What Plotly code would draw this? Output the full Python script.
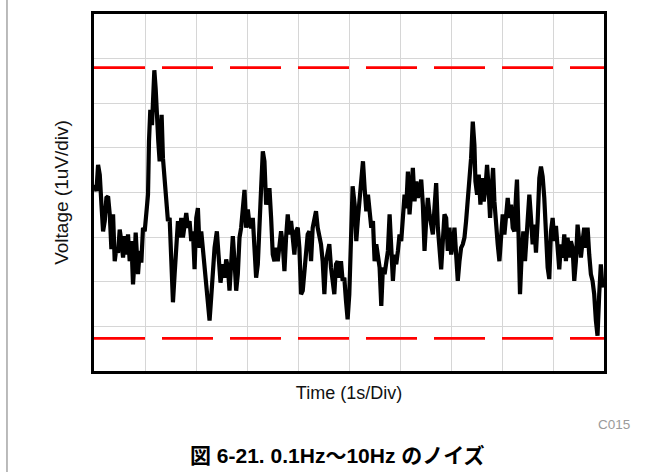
import plotly.graph_objects as go

# Time (s) and noise voltage (uV)
time_s = [
    0.015, 0.048, 0.080, 0.113, 0.146, 0.178, 0.211, 0.243, 0.276, 0.309,
    0.341, 0.374, 0.406, 0.439, 0.472, 0.504, 0.537, 0.570, 0.602, 0.635,
    0.667, 0.700, 0.733, 0.765, 0.798, 0.817, 0.863, 0.896, 0.928, 0.961,
    0.994, 1.026, 1.059, 1.078, 1.104, 1.137, 1.157, 1.183, 1.209, 1.235,
    1.261, 1.287, 1.326, 1.352, 1.385, 1.418, 1.450, 1.483, 1.515, 1.548,
    1.581, 1.613, 1.646, 1.679, 1.711, 1.744, 1.776, 1.809, 1.842, 1.874,
    1.907, 1.940, 1.972, 2.005, 2.037, 2.070, 2.103, 2.135, 2.168, 2.200,
    2.233, 2.266, 2.298, 2.331, 2.364, 2.409, 2.448, 2.481, 2.527, 2.559,
    2.592, 2.625, 2.657, 2.690, 2.722, 2.755, 2.788, 2.820, 2.853, 2.885,
    2.918, 2.951, 2.983, 3.016, 3.049, 3.081, 3.114, 3.146, 3.179, 3.212,
    3.244, 3.277, 3.310, 3.342, 3.375, 3.407, 3.440, 3.473, 3.505, 3.538,
    3.571, 3.603, 3.636, 3.668, 3.701, 3.734, 3.766, 3.799, 3.832, 3.864,
    3.897, 3.929, 3.962, 3.995, 4.027, 4.060, 4.093, 4.125, 4.158, 4.190,
    4.223, 4.256, 4.288, 4.321, 4.353, 4.386, 4.419, 4.451, 4.484, 4.517,
    4.549, 4.582, 4.614, 4.647, 4.680, 4.712, 4.745, 4.777, 4.810, 4.843,
    4.875, 4.908, 4.941, 4.973, 5.006, 5.039, 5.071,
    5.111, 5.143, 5.176, 5.209, 5.241, 5.274, 5.306, 5.339, 5.372, 5.404,
    5.437, 5.470, 5.502, 5.535, 5.567, 5.600, 5.633, 5.665, 5.698, 5.730,
    5.763, 5.796, 5.828, 5.861, 5.894, 5.926, 5.959, 5.991, 6.024, 6.057,
    6.089, 6.122, 6.155, 6.187, 6.220, 6.252, 6.285, 6.318, 6.350, 6.383,
    6.416, 6.448, 6.481, 6.513, 6.546, 6.579, 6.611, 6.644, 6.676, 6.709,
    6.742, 6.774, 6.807, 6.840, 6.872, 6.905, 6.937, 6.970, 7.003, 7.035,
    7.068, 7.101, 7.133, 7.166, 7.198, 7.231, 7.264, 7.296, 7.329, 7.362,
    7.394, 7.427, 7.459, 7.479, 7.512, 7.544, 7.577, 7.609, 7.642, 7.675,
    7.707, 7.733, 7.766, 7.799, 7.825, 7.851, 7.884, 7.916, 7.949, 7.981,
    8.014, 8.047, 8.079, 8.112, 8.145, 8.177, 8.210, 8.242, 8.275, 8.294,
    8.321, 8.353, 8.386, 8.418, 8.451, 8.484, 8.516, 8.536, 8.568, 8.601,
    8.634, 8.666, 8.699, 8.732, 8.764, 8.797, 8.829, 8.862, 8.895, 8.927,
    8.960, 8.993, 9.025, 9.058, 9.090, 9.123, 9.156, 9.188, 9.221, 9.253,
    9.286, 9.319, 9.351, 9.384, 9.417, 9.449, 9.482, 9.514, 9.547, 9.580,
    9.612, 9.645, 9.678, 9.710, 9.743, 9.775, 9.808, 9.841, 9.873, 9.906,
    9.938, 9.971,
]
noise_uv = [
    0.18, 0.03, 0.62, 0.40, -0.27, -0.87, -0.64, -0.12, -0.09, -0.49,
    -1.27, -0.49, -1.54, -1.24, -1.35, -0.83, -1.09, -1.46, -0.98, -1.39,
    -0.94, -1.54, -1.09, -2.06, -1.46, -0.90, -1.83, -1.31, -1.57, -0.79,
    -0.87, -0.49, -0.05, 1.14, 1.85, 1.51, 2.03, 2.74, 2.33, 1.36,
    1.14, 0.70, 1.74, 0.77, 0.25, -0.42, -0.64, -0.57, -1.31, -2.46,
    -1.83, -1.01, -0.64, -1.01, -0.57, -1.01, -0.72, -0.46, -0.79, -0.64,
    -1.09, -0.87, -1.72, -0.57, -0.35, -1.24, -0.87, -1.24, -1.54, -1.98,
    -2.35, -2.87, -2.35, -1.83, -1.24, -0.87, -1.54, -2.02, -1.61, -1.91,
    -1.50, -1.68, -2.20, -1.39, -0.98, -1.54, -2.20, -1.83, -1.01, -0.79,
    -0.35, 0.06, -0.79, -0.38, -0.72, -0.79, -0.57, -1.31, -1.91, -1.61,
    -0.94, 0.10, 0.92, 0.70, -0.27, -0.05, 0.10, -0.57, -1.39, -1.54,
    -1.24, -1.54, -1.09, -0.87, -1.16, -1.76, -1.01, -0.49, -0.94, -0.64,
    -1.01, -1.39, -0.87, -0.79, -1.24, -2.28, -2.20, -1.83, -1.31, -0.94,
    -0.87, -1.54, -0.79, -0.64, -0.42, -0.79, -0.94, -1.16, -1.54, -2.28,
    -1.54, -1.31, -1.16, -1.68, -1.98, -2.28, -1.61, -1.54, -1.91, -1.54,
    -1.98, -1.91, -2.43, -2.84, -2.28, -0.94, 0.14,
    -0.27, -1.09, -0.57, -0.20, 0.32, 0.70, 0.10, -0.42, -0.05, -0.57,
    -0.79, -0.64, -1.54, -1.16, -1.46, -1.68, -2.54, -1.68, -1.83, -1.54,
    -1.31, -0.49, -1.09, -1.98, -1.39, -1.61, -1.31, -0.94, -1.09, -0.57,
    -0.05, -0.35, 0.47, -0.49, 0.10, 0.55, -0.20, 0.25, -0.12, 0.10,
    0.29, -0.27, -1.31, -0.64, -0.12, -0.49, -0.79, -0.94, -0.35, 0.21,
    -0.79, -1.31, -1.72, -1.09, -0.49, -0.57, -1.31, -0.79, -1.39, -1.16,
    -0.79, -1.39, -1.98, -1.54, -1.24, -1.16, -1.01, -0.64, -0.20, 0.18,
    0.77, 1.59, 1.07, 0.25, -0.05, 0.40, -0.27, 0.32, -0.20, 0.10,
    0.62, 0.18, -0.57, 0.10, 0.55, -0.20, -0.79, -1.16, -1.54, -0.87,
    -0.49, -0.94, -0.42, -0.12, -0.57, -0.27, -0.79, -0.87, -0.05, 0.29,
    -0.79, -2.28, -1.39, -0.87, -1.54, -0.87, -0.27, -0.05, -0.57, -1.16,
    -0.72, -1.35, -0.64, 0.32, 0.58, 0.36, -0.12, -1.01, -1.68, -1.94,
    -0.87, -0.57, -1.09, -0.75, -1.24, -1.72, -1.16, -1.46, -0.94, -1.54,
    -1.01, -1.46, -1.09, -1.24, -1.98, -1.54, -0.72, -1.09, -1.46, -1.09,
    -0.79, -1.24, -0.79, -1.39, -1.83, -1.98, -2.28, -2.87, -3.21, -2.28,
    -1.61, -2.13,
]

# Peak limits (uV) marked by the red dashed lines
limit_high_uv = 2.80
limit_low_uv = -3.27

x_range = [0, 10]
y_range = [-4, 4]

x_title = "Time (1s/Div)"
y_title = "Voltage (1uV/div)"
caption = "図 6-21. 0.1Hz～10Hz のノイズ"
code_label = "C015"

font_family = "Liberation Sans, Arial, Noto Sans CJK JP, sans-serif"

fig = go.Figure()
for lim in (limit_high_uv, limit_low_uv):
    fig.add_trace(go.Scatter(
        x=x_range, y=[lim, lim], mode="lines",
        line=dict(color="#ff0000", width=2.7, dash="51px,17px"),
        hoverinfo="skip", showlegend=False,
    ))
fig.add_trace(go.Scatter(
    x=time_s, y=noise_uv, mode="lines",
    line=dict(color="#000000", width=4.2),
    showlegend=False,
))

axis_common = dict(
    showgrid=True, gridcolor="#d6d6d6", gridwidth=1,
    showline=True, linecolor="#000000", linewidth=3, mirror=True,
    showticklabels=False, ticks="", zeroline=False, dtick=1,
)
fig.update_xaxes(range=x_range, tick0=0,
                 title=dict(text=x_title, standoff=14,
                            font=dict(size=18, color="#111111", family=font_family)),
                 **axis_common)
fig.update_yaxes(range=y_range, tick0=-4,
                 title=dict(text=y_title, standoff=18,
                            font=dict(size=19, color="#111111", family=font_family)),
                 **axis_common)

fig.add_annotation(text=code_label, xref="paper", yref="paper",
                   x=1.055, y=-0.15, xanchor="right", yanchor="middle",
                   showarrow=False, font=dict(size=13.5, color="#9a9a9a", family=font_family))
fig.add_annotation(text="<b>" + caption + "</b>", xref="paper", yref="paper",
                   x=0.478, y=-0.236, xanchor="center", yanchor="middle",
                   showarrow=False, font=dict(size=21, color="#000000", family=font_family))
fig.add_shape(type="line", xref="paper", yref="paper",
              x0=-0.1706, x1=-0.1706, y0=-0.3, y1=1.05,
              line=dict(color="#777777", width=1))

fig.update_layout(
    width=667, height=472,
    margin=dict(l=94, r=63, t=11, b=101),
    paper_bgcolor="#ffffff", plot_bgcolor="#ffffff",
    font=dict(family=font_family),
)

fig.write_html("out.html", config={"displayModeBar": False},
               post_script="document.body.style.margin='0';")
